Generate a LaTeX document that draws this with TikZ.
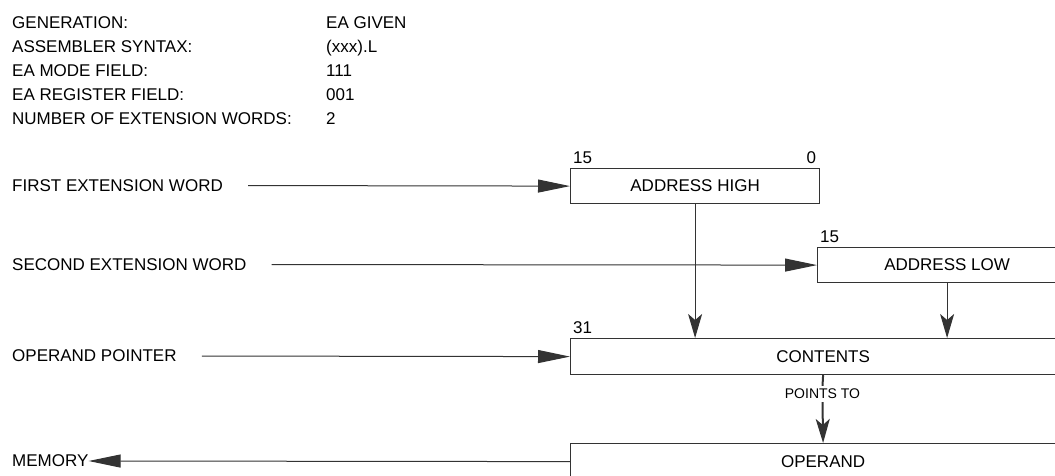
\documentclass[tikz,border=0pt]{standalone}
\usepackage{fontspec}
\setmainfont{Liberation Sans}
\usepackage{tikz}
\usetikzlibrary{positioning,arrows.meta}

\begin{document}
\begin{tikzpicture}[
  x=1pt,y=-1pt,
  lbl/.style={font=\fontsize{17}{24}\selectfont,inner sep=0pt,align=left},
  bit/.style={font=\fontsize{17}{20}\selectfont,inner sep=0pt,yshift=4pt},
  reg/.style={draw=black!80,line width=1.2pt,minimum height=35pt,inner sep=0pt,
              font=\fontsize{17}{20}\selectfont},
  harrow/.style={draw=black!80,line width=1pt,-{Triangle[length=32pt,width=13pt]}},
  varrow/.style={draw=black!80,line width=1pt,-{Stealth[length=24pt,width=14pt,inset=6pt]}}
]
  % frame
  \path[use as bounding box] (0,0) rectangle (1055,476);
  \clip (0,0) rectangle (1055,476);

  % header
  \node[lbl,anchor=north west] (hdrkey) at (12,16)
       {GENERATION:\\ ASSEMBLER SYNTAX:\\ EA MODE FIELD:\\ EA REGISTER FIELD:\\ NUMBER OF EXTENSION WORDS:};
  \node[lbl,anchor=north west] (hdrval) at (326,16)
       {EA GIVEN\\ (xxx).L\\ 111\\ 001\\ 2};

  % registers
  \node[reg,minimum width=249pt,anchor=north west] (adrhi) at (570,168) {ADDRESS HIGH};
  \node[reg,minimum width=259pt,anchor=north west] (adrlo) at (817,247) {ADDRESS LOW};
  \node[reg,minimum width=505pt,minimum height=36pt,anchor=north west] (contents) at (570,338) {CONTENTS};
  \node[reg,minimum width=505pt,minimum height=36pt,anchor=north west] (operand) at (570,443) {OPERAND};

  % bit numbers
  \node[bit,anchor=south west] (hi15) at ([xshift=3pt]adrhi.north west) {15};
  \node[bit,anchor=south east] (hi0) at ([xshift=-4pt]adrhi.north east) {0};
  \node[bit,anchor=south west] (lo15) at ([xshift=3pt]adrlo.north west) {15};
  \node[bit,anchor=south east] (lo0) at ([xshift=-4pt]adrlo.north east) {0};
  \node[bit,anchor=south west] (ct31) at ([xshift=3pt]contents.north west) {31};
  \node[bit,anchor=south east] (ct0) at ([xshift=-4pt]contents.north east) {0};

  % left labels
  \node[lbl,anchor=west] (first) at (12,185.5) {FIRST EXTENSION WORD};
  \node[lbl,anchor=west] (second) at (12,264.5) {SECOND EXTENSION WORD};
  \node[lbl,anchor=west] (pointer) at (12,356) {OPERAND POINTER};
  \node[lbl,anchor=west] (memory) at (12,461) {MEMORY};

  % connectors
  \draw[harrow,shorten <=25pt] (first.east) -- (adrhi.west);
  \draw[harrow,shorten <=25pt] (second.east) -- (adrlo.west);
  \draw[harrow,shorten <=25pt] (pointer.east) -- (contents.west);
  \draw[harrow] (operand.west) -- (memory.east);
  \draw[varrow] (adrhi.south) -- (adrhi.south |- contents.north);
  \draw[varrow] (adrlo.south) -- (adrlo.south |- contents.north);

  % points to
  \node[lbl,font=\fontsize{14}{16}\selectfont,inner sep=3pt] (points) at (822.5,394) {POINTS TO};
  \draw[black!80,line width=2pt] (contents.south) -- (points.north);
  \draw[varrow,line width=2pt] (points.south) -- (operand.north);
\end{tikzpicture}
\end{document}
